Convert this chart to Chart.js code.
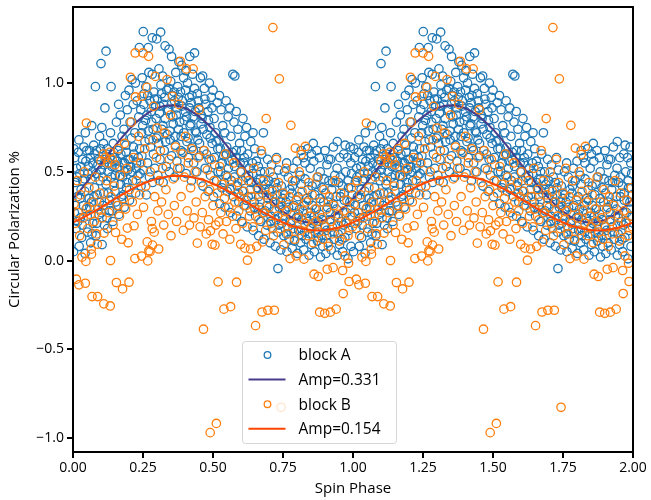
<!DOCTYPE html>
<html>
<head>
<meta charset="utf-8">
<script src="https://cdn.jsdelivr.net/npm/chart.js@4.4.1/dist/chart.umd.min.js"></script>
<style>
    html, body { margin: 0; padding: 0; background: #fff; }
    #wrap { width: 651px; height: 500px; }
</style>
</head>
<body>
<div id="wrap"><canvas id="polChart" width="651" height="500"></canvas></div>
<script>
// one spin cycle of each block, [phase, circular polarization %]
const blockA = [
    [0.002,0.05],[0.011,0.18],[0.005,0.27],[0.016,0.36],[0.008,0.44],[0.013,0.52],[0.003,0.63],
    [0.022,0.08],[0.031,0.13],[0.026,0.24],[0.037,0.31],[0.029,0.40],[0.024,0.49],[0.034,0.57],[0.021,0.68],
    [0.043,0.04],[0.052,0.16],[0.047,0.29],[0.058,0.35],[0.041,0.46],[0.055,0.53],[0.049,0.62],[0.044,0.72],
    [0.063,0.10],[0.071,0.21],[0.066,0.33],[0.077,0.41],[0.069,0.50],[0.062,0.58],[0.074,0.65],[0.067,0.76],
    [0.082,0.14],[0.093,0.26],[0.086,0.37],[0.097,0.45],[0.089,0.54],[0.084,0.62],[0.095,0.70],[0.080,0.98],
    [0.104,0.09],[0.112,0.20],[0.107,0.31],[0.118,0.43],[0.101,0.51],[0.115,0.57],[0.109,0.66],[0.103,0.75],[0.100,1.11],
    [0.123,0.18],[0.131,0.28],[0.126,0.38],[0.137,0.47],[0.129,0.55],[0.122,0.63],[0.134,0.72],[0.114,0.86],[0.118,1.18],
    [0.142,0.22],[0.153,0.33],[0.146,0.44],[0.157,0.52],[0.149,0.58],[0.144,0.66],[0.155,0.78],[0.136,0.98],
    [0.164,0.26],[0.172,0.36],[0.167,0.48],[0.178,0.55],[0.161,0.62],[0.175,0.70],[0.169,0.82],[0.163,0.88],
    [0.183,0.30],[0.191,0.41],[0.186,0.50],[0.197,0.57],[0.189,0.65],[0.182,0.74],[0.194,0.85],[0.187,0.93],
    [0.202,0.34],[0.213,0.45],[0.206,0.53],[0.217,0.60],[0.209,0.69],[0.204,0.78],[0.215,0.88],[0.200,0.96],[0.211,1.02],
    [0.224,0.38],[0.232,0.48],[0.227,0.55],[0.238,0.63],[0.221,0.72],[0.235,0.81],[0.229,0.90],[0.223,1.00],[0.237,1.20],
    [0.243,0.42],[0.251,0.51],[0.246,0.59],[0.257,0.67],[0.249,0.76],[0.242,0.85],[0.254,0.94],[0.247,1.03],[0.251,1.29],
    [0.262,0.37],[0.273,0.47],[0.266,0.55],[0.277,0.64],[0.269,0.73],[0.264,0.82],[0.275,0.90],[0.260,0.98],[0.271,1.06],[0.269,1.20],
    [0.284,0.44],[0.292,0.52],[0.287,0.60],[0.298,0.69],[0.281,0.78],[0.295,0.87],[0.289,0.95],[0.283,1.05],[0.283,1.255],
    [0.303,0.48],[0.311,0.57],[0.306,0.66],[0.317,0.74],[0.309,0.83],[0.302,0.91],[0.314,0.99],[0.307,1.08],[0.299,1.249],
    [0.322,0.44],[0.333,0.53],[0.326,0.62],[0.337,0.71],[0.329,0.80],[0.324,0.88],[0.335,0.96],[0.320,1.04],[0.313,1.287],[0.329,1.21],
    [0.344,0.50],[0.352,0.59],[0.347,0.68],[0.358,0.77],[0.341,0.85],[0.355,0.93],[0.349,1.01],[0.343,1.19],[0.352,1.15],
    [0.363,0.47],[0.371,0.56],[0.366,0.65],[0.377,0.74],[0.369,0.82],[0.362,0.90],[0.374,0.98],[0.367,1.06],[0.378,1.12],
    [0.382,0.52],[0.393,0.61],[0.386,0.70],[0.397,0.79],[0.389,0.87],[0.384,0.95],[0.395,1.03],[0.388,1.10],
    [0.404,0.49],[0.412,0.58],[0.407,0.67],[0.418,0.76],[0.401,0.84],[0.415,0.92],[0.409,1.00],[0.403,1.07],[0.417,1.15],
    [0.423,0.45],[0.431,0.55],[0.426,0.64],[0.437,0.73],[0.429,0.81],[0.422,0.89],[0.434,0.97],[0.427,1.05],[0.434,1.17],
    [0.442,0.50],[0.453,0.59],[0.446,0.68],[0.457,0.77],[0.449,0.86],[0.444,0.94],[0.455,1.03],
    [0.464,0.42],[0.472,0.52],[0.467,0.62],[0.478,0.71],[0.461,0.80],[0.475,0.88],[0.469,0.97],[0.463,1.04],
    [0.483,0.39],[0.491,0.48],[0.486,0.57],[0.497,0.66],[0.489,0.75],[0.482,0.84],[0.494,0.92],[0.487,1.00],
    [0.502,0.36],[0.513,0.45],[0.506,0.54],[0.517,0.63],[0.509,0.72],[0.504,0.80],[0.515,0.89],[0.500,0.96],
    [0.524,0.32],[0.532,0.41],[0.527,0.50],[0.538,0.59],[0.521,0.68],[0.535,0.76],[0.529,0.85],[0.523,0.93],
    [0.543,0.30],[0.551,0.39],[0.546,0.48],[0.557,0.56],[0.549,0.64],[0.542,0.72],[0.554,0.81],[0.547,0.90],
    [0.562,0.27],[0.573,0.36],[0.566,0.45],[0.577,0.53],[0.569,0.61],[0.564,0.70],[0.575,0.78],[0.560,0.86],[0.571,1.05],
    [0.584,0.25],[0.592,0.33],[0.587,0.42],[0.598,0.50],[0.581,0.58],[0.595,0.66],[0.589,0.74],[0.583,0.84],[0.578,1.04],
    [0.603,0.22],[0.611,0.31],[0.606,0.39],[0.617,0.47],[0.609,0.55],[0.602,0.62],[0.614,0.70],[0.607,0.80],
    [0.622,0.19],[0.633,0.28],[0.626,0.36],[0.637,0.44],[0.629,0.52],[0.624,0.60],[0.635,0.67],[0.620,0.75],
    [0.644,0.17],[0.652,0.25],[0.647,0.33],[0.658,0.41],[0.641,0.49],[0.655,0.56],[0.649,0.63],[0.643,0.72],
    [0.663,0.14],[0.671,0.22],[0.666,0.30],[0.677,0.38],[0.669,0.46],[0.662,0.53],[0.674,0.60],
    [0.682,0.12],[0.693,0.20],[0.686,0.28],[0.697,0.35],[0.689,0.43],[0.684,0.50],[0.695,0.57],[0.680,0.72],
    [0.704,0.10],[0.712,0.18],[0.707,0.25],[0.718,0.33],[0.701,0.40],[0.715,0.47],[0.709,0.54],
    [0.723,0.08],[0.731,0.16],[0.726,0.23],[0.737,0.30],[0.729,0.37],[0.722,0.44],[0.734,0.51],[0.727,0.58],[0.732,-0.045],
    [0.742,0.06],[0.753,0.14],[0.746,0.21],[0.757,0.28],[0.749,0.35],[0.744,0.42],[0.755,0.50],
    [0.764,0.05],[0.772,0.12],[0.767,0.19],[0.778,0.26],[0.761,0.33],[0.775,0.40],[0.769,0.47],[0.763,0.55],
    [0.783,0.07],[0.791,0.11],[0.786,0.18],[0.797,0.24],[0.789,0.31],[0.782,0.38],[0.794,0.45],[0.787,0.52],
    [0.802,0.04],[0.813,0.10],[0.806,0.17],[0.817,0.23],[0.809,0.29],[0.804,0.36],[0.815,0.43],[0.800,0.56],
    [0.824,0.06],[0.832,0.12],[0.827,0.16],[0.838,0.22],[0.821,0.28],[0.835,0.35],[0.829,0.46],[0.823,0.58],
    [0.843,0.03],[0.851,0.09],[0.846,0.15],[0.857,0.21],[0.849,0.27],[0.842,0.34],[0.854,0.42],[0.847,0.52],[0.852,0.60],
    [0.862,0.05],[0.873,0.11],[0.866,0.16],[0.877,0.22],[0.869,0.29],[0.864,0.37],[0.875,0.47],[0.860,0.56],[0.871,0.62],
    [0.884,0.02],[0.892,0.08],[0.887,0.14],[0.898,0.20],[0.881,0.26],[0.895,0.33],[0.889,0.41],[0.883,0.50],
    [0.903,0.04],[0.911,0.10],[0.906,0.17],[0.917,0.23],[0.909,0.30],[0.902,0.38],[0.914,0.45],[0.907,0.54],
    [0.922,0.06],[0.933,0.12],[0.926,0.19],[0.937,0.25],[0.929,0.32],[0.924,0.40],[0.935,0.48],[0.920,0.57],
    [0.944,0.03],[0.952,0.09],[0.947,0.15],[0.958,0.22],[0.941,0.29],[0.955,0.36],[0.949,0.44],[0.943,0.52],[0.944,0.67],
    [0.963,0.05],[0.971,0.13],[0.966,0.20],[0.977,0.27],[0.969,0.34],[0.962,0.42],[0.974,0.50],[0.967,0.60],
    [0.982,0.01],[0.993,0.08],[0.986,0.17],[0.997,0.25],[0.989,0.33],[0.984,0.41],[0.995,0.49],[0.980,0.58],[0.990,0.64],
    // denser core of the band
    [0.006,0.58],[0.014,0.47],[0.019,0.61],[0.028,0.53],[0.035,0.45],[0.039,0.64],[0.046,0.56],[0.053,0.49],
    [0.059,0.62],[0.064,0.46],[0.070,0.55],[0.078,0.60],[0.083,0.49],[0.091,0.57],[0.098,0.63],[0.106,0.47],
    [0.111,0.54],[0.119,0.60],[0.125,0.50],[0.132,0.58],[0.139,0.53],[0.145,0.61],[0.151,0.48],[0.158,0.56],
    [0.165,0.53],[0.171,0.60],[0.177,0.47],[0.184,0.55],[0.190,0.61],[0.196,0.51],[0.203,0.57],[0.210,0.50],
    [0.216,0.64],[0.226,0.52],[0.233,0.58],[0.240,0.49],
    [0.009,0.31],[0.017,0.22],[0.025,0.35],[0.033,0.20],[0.042,0.39],[0.051,0.25],[0.060,0.30],[0.068,0.15],
    [0.075,0.36],[0.085,0.21],[0.094,0.33],[0.102,0.27],[0.110,0.38],[0.121,0.24],[0.130,0.34],[0.140,0.28],
    [0.150,0.39],[0.160,0.31],[0.170,0.43],[0.180,0.37],[0.193,0.44],
    [0.245,0.72],[0.253,0.88],[0.259,0.79],[0.267,0.93],[0.272,0.68],[0.279,0.84],[0.286,0.74],[0.291,0.91],
    [0.297,0.80],[0.304,0.70],[0.310,0.87],[0.316,0.94],[0.321,0.76],[0.327,0.92],[0.331,0.67],[0.338,0.85],
    [0.342,0.97],[0.346,0.73],[0.351,0.88],[0.357,0.81],[0.361,0.95],[0.365,0.70],[0.370,0.86],[0.376,0.92],
    [0.381,0.78],[0.385,0.62],[0.391,0.90],[0.396,0.72],[0.402,0.96],[0.406,0.81],[0.411,0.69],[0.416,0.86],
    [0.421,0.77],[0.425,0.93],[0.430,0.62],[0.436,0.84],[0.441,0.72],[0.447,0.90],[0.452,0.66],[0.458,0.82],
    [0.465,0.74],[0.471,0.91],[0.477,0.60],[0.484,0.79],[0.490,0.69],[0.496,0.86],
    [0.505,0.58],[0.511,0.67],[0.518,0.50],[0.526,0.63],[0.533,0.55],[0.540,0.44],[0.548,0.60],[0.555,0.52],
    [0.561,0.40],[0.568,0.57],[0.576,0.47],[0.583,0.62],[0.590,0.38],[0.597,0.55],[0.604,0.45],[0.612,0.58],
    [0.619,0.34],[0.627,0.48],[0.634,0.40],[0.641,0.55],[0.648,0.30],[0.656,0.44],[0.663,0.36],[0.670,0.50],
    [0.678,0.27],[0.685,0.40],[0.692,0.31],[0.699,0.45],[0.706,0.22],[0.713,0.36],[0.720,0.28],[0.728,0.41],
    [0.735,0.20],[0.741,0.33],[0.748,0.25],
    [0.756,0.37],[0.762,0.15],[0.770,0.30],[0.777,0.22],[0.784,0.42],[0.790,0.16],[0.798,0.34],[0.805,0.26],
    [0.811,0.48],[0.818,0.14],[0.826,0.31],[0.833,0.24],[0.840,0.40],[0.848,0.18],[0.855,0.31],[0.862,0.25],
    [0.868,0.43],[0.876,0.13],[0.882,0.35],[0.890,0.23],[0.897,0.46],[0.905,0.14],[0.912,0.33],[0.919,0.27],
    [0.927,0.44],[0.934,0.16],[0.940,0.36],[0.948,0.24],[0.955,0.47],[0.961,0.12],[0.968,0.38],[0.976,0.21],
    [0.983,0.45],[0.991,0.29],[0.998,0.37],
    [0.815,0.62],[0.828,0.55],[0.838,0.63],[0.858,0.66],[0.880,0.58],[0.900,0.62],[0.913,0.57],[0.930,0.64],
    [0.953,0.58],[0.972,0.65],[0.992,0.55]
];

const blockB = [
    [0.004,0.32],[0.008,0.21],[0.012,-0.105],[0.015,0.45],[0.018,0.27],[0.021,-0.137],[0.024,0.14],[0.027,0.37],
    [0.032,0.019],[0.036,0.24],[0.040,0.50],[0.044,-0.128],[0.046,-0.005],[0.048,0.775],[0.050,0.30],[0.053,0.18],
    [0.057,0.41],[0.062,0.26],[0.065,0.064],[0.066,0.036],[0.068,-0.203],[0.072,0.33],[0.076,0.22],[0.080,0.47],
    [0.084,0.15],[0.087,0.092],[0.088,-0.203],[0.092,0.29],[0.096,0.38],[0.100,0.56],[0.104,0.24],[0.108,0.60],
    [0.110,-0.244],[0.111,0.155],[0.113,0.33],[0.116,0.58],[0.120,0.45],[0.124,0.55],[0.128,0.27],[0.131,0.61],
    [0.133,-0.256],[0.134,0.0],[0.136,0.36],[0.140,0.57],[0.143,0.20],[0.147,0.42],[0.150,0.54],[0.152,0.158],
    [0.155,-0.124],[0.158,0.31],[0.162,0.63],[0.166,0.25],[0.170,0.48],[0.174,0.12],[0.177,-0.16],[0.180,0.35],
    [0.184,0.66],[0.188,0.29],[0.192,0.52],[0.194,0.183],[0.197,0.10],[0.200,-0.122],[0.202,0.40],[0.205,1.033],
    [0.208,0.78],[0.212,0.33],[0.216,0.58],[0.218,0.196],[0.221,0.011],[0.222,1.17],[0.223,0.922],[0.226,0.45],
    [0.230,0.26],[0.234,0.70],[0.238,0.37],[0.242,0.55],[0.245,0.025],[0.246,0.926],[0.250,1.17],[0.252,0.30],
    [0.256,0.63],[0.260,0.42],[0.264,0.976],[0.265,0.105],[0.267,-0.002],[0.270,1.151],[0.271,0.055],[0.275,0.05],
    [0.276,0.50],[0.280,0.22],[0.283,0.18],[0.284,0.087],[0.286,0.68],[0.288,0.869],[0.290,0.16],[0.292,0.36],
    [0.294,1.038],[0.298,0.58],[0.300,0.747],[0.303,0.28],[0.306,0.065],[0.308,0.45],[0.312,0.62],[0.316,0.33],
    [0.320,0.52],[0.324,0.20],[0.328,0.72],[0.332,0.40],[0.336,1.02],[0.340,0.26],[0.344,0.57],[0.348,0.82],
    [0.350,0.14],[0.355,0.926],[0.358,0.46],[0.362,0.31],[0.366,0.64],[0.370,0.22],[0.374,0.52],[0.378,0.88],
    [0.383,1.123],[0.386,0.36],[0.390,0.60],[0.394,0.17],[0.398,0.47],[0.402,0.70],[0.405,1.08],[0.408,0.28],
    [0.412,0.55],[0.416,0.20],[0.420,0.41],[0.424,0.63],[0.429,1.08],[0.432,0.24],[0.436,0.50],[0.440,0.33],
    [0.444,0.098],[0.447,0.58],[0.451,0.85],[0.454,0.19],[0.458,0.44],[0.462,0.27],[0.466,-0.387],[0.468,0.62],
    [0.472,0.36],[0.476,0.15],[0.480,0.51],[0.484,0.23],[0.488,0.40],[0.490,-0.97],[0.491,0.168],[0.494,0.57],
    [0.497,0.092],[0.500,0.31],[0.504,0.45],[0.507,0.087],[0.510,0.20],[0.512,-0.918],[0.516,0.38],[0.518,-0.12],
    [0.521,0.218],[0.524,0.53],[0.528,0.27],[0.532,0.43],[0.536,0.15],[0.539,-0.274],[0.541,0.35],[0.544,0.60],
    [0.548,0.22],[0.552,0.47],[0.556,0.30],[0.560,0.12],[0.563,-0.26],[0.566,0.41],[0.570,0.25],[0.574,0.55],
    [0.578,0.33],[0.582,0.18],[0.584,-0.122],[0.588,0.44],[0.592,0.28],[0.596,0.36],[0.599,0.092],[0.602,0.50],
    [0.606,0.21],[0.610,0.39],[0.614,0.07],[0.618,0.31],[0.623,0.002],[0.626,0.45],[0.630,0.25],[0.634,0.065],
    [0.638,0.36],[0.642,0.19],[0.646,0.52],[0.650,0.29],[0.652,-0.367],[0.656,0.08],[0.660,0.40],[0.664,0.23],
    [0.668,0.33],[0.672,0.62],[0.675,-0.29],[0.677,0.105],[0.680,0.45],[0.684,0.27],[0.688,0.17],[0.690,0.80],
    [0.692,0.37],[0.696,-0.28],[0.700,0.30],[0.704,0.50],[0.708,0.21],[0.712,0.39],[0.714,1.313],[0.716,0.14],
    [0.719,-0.28],[0.722,0.33],[0.726,0.57],[0.730,0.25],[0.734,0.44],[0.737,1.024],[0.740,0.18],[0.743,-0.827],
    [0.746,0.31],[0.750,0.38],[0.753,0.089],[0.756,0.23],[0.760,0.52],[0.764,0.28],[0.768,0.15],[0.772,0.36],
    [0.775,0.011],[0.778,0.762],[0.780,0.21],[0.784,0.45],[0.788,0.30],[0.792,0.12],[0.794,0.634],[0.797,0.026],
    [0.800,0.34],[0.804,0.24],[0.808,0.50],[0.812,0.17],[0.815,0.597],[0.818,0.39],[0.822,0.28],[0.825,0.008],
    [0.828,0.21],[0.830,0.643],[0.834,0.33],[0.838,0.14],[0.842,0.44],[0.846,0.25],[0.850,0.19],[0.854,0.37],
    [0.858,0.10],[0.861,-0.077],[0.864,0.29],[0.868,0.22],[0.872,0.47],[0.876,-0.09],[0.878,0.16],[0.881,-0.291],
    [0.884,0.33],[0.888,0.24],[0.892,0.12],[0.896,0.40],[0.899,-0.297],[0.902,0.19],[0.906,0.29],[0.908,-0.049],
    [0.912,0.08],[0.916,0.36],[0.919,-0.291],[0.922,0.22],[0.926,0.15],[0.929,-0.04],[0.932,0.31],[0.936,0.45],
    [0.940,-0.274],[0.944,0.20],[0.948,0.26],[0.952,0.11],[0.956,0.38],[0.960,0.17],[0.963,-0.056],[0.965,-0.186],
    [0.968,0.28],[0.971,0.026],[0.974,0.22],[0.978,0.34],[0.982,0.14],[0.984,-0.015],[0.986,-0.118],[0.990,0.25],
    [0.994,0.41],[0.998,0.19]
];

const fitPhase = [
    0, 0.025, 0.05, 0.075, 0.1, 0.125, 0.15, 0.175, 0.2, 0.225, 0.25, 0.275, 0.3, 0.325,
    0.35, 0.375, 0.4, 0.425, 0.45, 0.475, 0.5, 0.525, 0.55, 0.575, 0.6, 0.625, 0.65, 0.675,
    0.7, 0.725, 0.75, 0.775, 0.8, 0.825, 0.85, 0.875, 0.9, 0.925, 0.95, 0.975, 1
];
const fitA = [
    0.349, 0.394, 0.442, 0.492, 0.544, 0.596, 0.646, 0.694, 0.739, 0.778, 0.812, 0.839, 0.859, 0.871,
    0.875, 0.871, 0.859, 0.839, 0.812, 0.778, 0.739, 0.694, 0.646, 0.596, 0.544, 0.492, 0.442, 0.394,
    0.349, 0.310, 0.276, 0.249, 0.229, 0.217, 0.213, 0.217, 0.229, 0.249, 0.276, 0.310, 0.349
];
const fitB = [
    0.215, 0.233, 0.254, 0.276, 0.300, 0.324, 0.348, 0.372, 0.394, 0.415, 0.433, 0.449, 0.461, 0.470,
    0.476, 0.478, 0.476, 0.470, 0.461, 0.449, 0.433, 0.415, 0.394, 0.372, 0.348, 0.324, 0.300, 0.276,
    0.254, 0.233, 0.215, 0.199, 0.187, 0.178, 0.172, 0.170, 0.172, 0.178, 0.187, 0.199, 0.215
];

const xTicks = [0, 0.25, 0.5, 0.75, 1, 1.25, 1.5, 1.75, 2];
const yTicks = [-1, -0.5, 0, 0.5, 1];
const seriesLabels = ["block A", "Amp=0.331", "block B", "Amp=0.154"];

const FONT = "'Open Sans', 'DejaVu Sans', sans-serif";

// phase-folded data is plotted over two cycles
function twoCycles(points) {
    const pts = points.map(p => ({ x: p[0], y: p[1] }));
    return pts.concat(points.map(p => ({ x: p[0] + 1, y: p[1] })));
}

function fitCurve(values) {
    const pts = fitPhase.map((ph, i) => ({ x: ph, y: values[i] }));
    return pts.concat(fitPhase.slice(1).map((ph, i) => ({ x: ph + 1, y: values[i + 1] })));
}

function minusSign(v, digits) {
    const s = Math.abs(v).toFixed(digits);
    return v < 0 ? "\u2212" + s : s;
}

// matplotlib style box around the axes
const frame = {
    id: "frame",
    afterDatasetsDraw(chart) {
        const { ctx, chartArea: a } = chart;
        ctx.save();
        ctx.strokeStyle = "#000";
        ctx.lineWidth = 2;
        ctx.strokeRect(a.left, a.top, a.right - a.left, a.bottom - a.top);
        ctx.restore();
    }
};

// legend drawn inside the axes with a translucent white box
const insideLegend = {
    id: "insideLegend",
    afterDatasetsDraw(chart) {
        const { ctx, chartArea: a } = chart;
        const sets = chart.data.datasets;
        const boxW = 154, boxH = 102;
        const x0 = a.left + 169.5;
        const y0 = a.bottom - 8.5 - boxH;
        ctx.save();
        ctx.beginPath();
        ctx.roundRect(x0, y0, boxW, boxH, 3);
        ctx.fillStyle = "rgba(255,255,255,0.8)";
        ctx.fill();
        ctx.strokeStyle = "rgba(204,204,204,0.8)";
        ctx.lineWidth = 1;
        ctx.stroke();

        ctx.font = "15.5px " + FONT;
        ctx.textBaseline = "middle";
        ctx.fillStyle = "#000";
        seriesLabels.forEach((label, i) => {
            const ds = sets[i];
            const cy = y0 + 13.5 + i * 24.6;
            if (ds.showLine) {
                ctx.beginPath();
                ctx.moveTo(x0 + 6, cy);
                ctx.lineTo(x0 + 43, cy);
                ctx.strokeStyle = ds.borderColor;
                ctx.lineWidth = 2;
                ctx.stroke();
            } else {
                ctx.beginPath();
                ctx.arc(x0 + 25, cy, 3.3, 0, Math.PI * 2);
                ctx.strokeStyle = ds.borderColor;
                ctx.lineWidth = 1.3;
                ctx.stroke();
            }
            ctx.fillText(label, x0 + 56, cy + 1);
        });
        ctx.restore();
    }
};

function scatterSet(label, points, color, order) {
    return {
        label: label,
        data: twoCycles(points),
        borderColor: color,
        backgroundColor: "rgba(0,0,0,0)",
        pointStyle: "circle",
        pointRadius: 4.2,
        pointBorderWidth: 1.3,
        showLine: false,
        order: order
    };
}

function lineSet(label, values, color, order) {
    return {
        label: label,
        data: fitCurve(values),
        borderColor: color,
        borderWidth: 2,
        pointRadius: 0,
        showLine: true,
        fill: false,
        order: order
    };
}

document.addEventListener("DOMContentLoaded", () => {
    const ctx = document.getElementById("polChart").getContext("2d");

    new Chart(ctx, {
        type: "scatter",
        data: {
            datasets: [
                scatterSet(seriesLabels[0], blockA, "#1f77b4", 4),
                lineSet(seriesLabels[1], fitA, "darkslateblue", 3),
                scatterSet(seriesLabels[2], blockB, "#ff7f0e", 2),
                lineSet(seriesLabels[3], fitB, "orangered", 1)
            ]
        },
        options: {
            responsive: false,
            animation: false,
            layout: { padding: { top: 7, right: 18, bottom: 0, left: 0 } },
            plugins: {
                legend: { display: false },
                tooltip: { enabled: false }
            },
            scales: {
                x: {
                    type: "linear",
                    min: 0,
                    max: 2,
                    afterBuildTicks: s => { s.ticks = xTicks.map(v => ({ value: v })); },
                    afterFit: s => { s.height = 48; s.paddingLeft = 0; s.paddingRight = 0; },
                    border: { display: false },
                    grid: { drawOnChartArea: false, drawTicks: true, tickLength: 6, color: "#000", lineWidth: 2 },
                    ticks: {
                        color: "#000",
                        font: { family: FONT, size: 14 },
                        padding: 2,
                        maxRotation: 0,
                        callback: v => minusSign(v, 2)
                    },
                    title: {
                        display: true,
                        text: "Spin Phase",
                        color: "#000",
                        font: { family: FONT, size: 15 },
                        padding: { top: 0, bottom: 2 }
                    }
                },
                y: {
                    type: "linear",
                    min: -1.079,
                    max: 1.429,
                    afterBuildTicks: s => { s.ticks = yTicks.map(v => ({ value: v })); },
                    afterFit: s => { s.width = 73; s.paddingTop = 0; s.paddingBottom = 0; },
                    border: { display: false },
                    grid: { drawOnChartArea: false, drawTicks: true, tickLength: 6, color: "#000", lineWidth: 2 },
                    ticks: {
                        color: "#000",
                        font: { family: FONT, size: 14 },
                        padding: 3,
                        callback: v => minusSign(v, 1)
                    },
                    title: {
                        display: true,
                        text: "Circular Polarization %",
                        color: "#000",
                        font: { family: FONT, size: 15 },
                        padding: { top: 6, bottom: 0 }
                    }
                }
            }
        },
        plugins: [frame, insideLegend]
    });
});
</script>
</body>
</html>
